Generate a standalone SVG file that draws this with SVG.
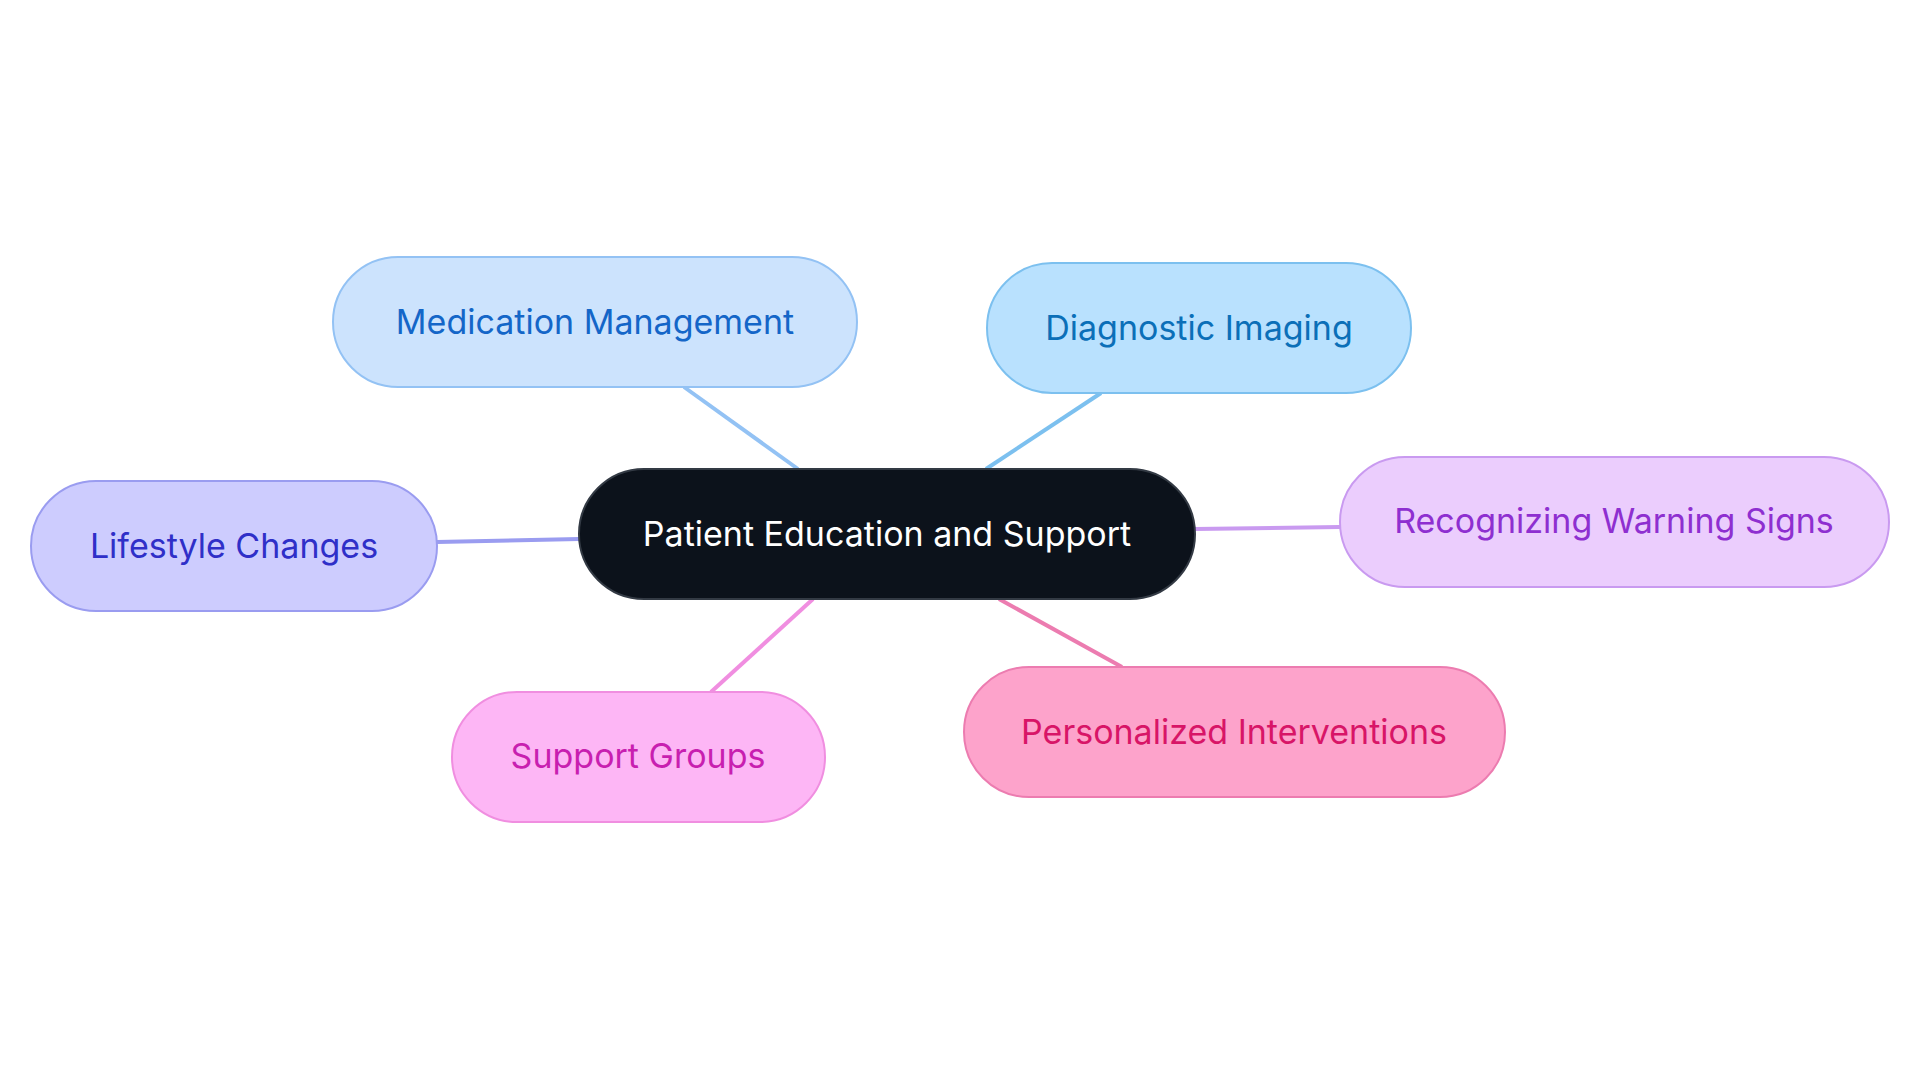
<svg xmlns="http://www.w3.org/2000/svg" width="1920" height="1083" viewBox="0 0 1920 1083">
<style>
text{font-family:Inter,"Noto Sans",sans-serif;font-size:34px;text-anchor:middle;dominant-baseline:central}
.n{stroke-width:2}
.e{stroke-width:4;fill:none}
</style>
<rect width="1920" height="1083" fill="#fff"/>
<g id="connectors">
<line class="e" x1="684" y1="387" x2="798" y2="469" stroke="#93c2f4"/>
<line class="e" x1="1101" y1="393" x2="986" y2="469" stroke="#7cc0ef"/>
<line class="e" x1="437" y1="542" x2="579" y2="539" stroke="#9a9cf0"/>
<line class="e" x1="1340" y1="527" x2="1195" y2="529" stroke="#c99af0"/>
<line class="e" x1="711" y1="692" x2="813" y2="599" stroke="#f08ee0"/>
<line class="e" x1="1122" y1="667" x2="999" y2="599" stroke="#ec7cb0"/>
</g>
<g id="center"><rect class="n" x="579" y="469" width="616" height="130" rx="65" fill="#0c121b" stroke="#333a44"/><text x="887" y="533" fill="#fff">Patient Education and Support</text></g>
<g id="medication"><rect class="n" x="333" y="257" width="524" height="130" rx="65" fill="#cce3fd" stroke="#93c2f4"/><text x="595" y="321" fill="#1466c8">Medication Management</text></g>
<g id="diagnostic"><rect class="n" x="987" y="263" width="424" height="130" rx="65" fill="#b9e1fe" stroke="#7cc0ef"/><text x="1199" y="327" fill="#0b6fb8">Diagnostic Imaging</text></g>
<g id="lifestyle"><rect class="n" x="31" y="481" width="406" height="130" rx="65" fill="#cdccfe" stroke="#9a9cf0"/><text x="234" y="545" fill="#2f2fc8">Lifestyle Changes</text></g>
<g id="warning"><rect class="n" x="1340" y="457" width="549" height="130" rx="65" fill="#ebcdfd" stroke="#c99af0"/><text x="1614" y="520" fill="#8e2fd0">Recognizing Warning Signs</text></g>
<g id="support"><rect class="n" x="452" y="692" width="373" height="130" rx="65" fill="#fdb6f5" stroke="#f08ee0"/><text x="638" y="755" fill="#c81fb0">Support Groups</text></g>
<g id="personalized"><rect class="n" x="964" y="667" width="541" height="130" rx="65" fill="#fda3cb" stroke="#ec7cb0"/><text x="1234" y="731" fill="#d81567">Personalized Interventions</text></g>
</svg>
